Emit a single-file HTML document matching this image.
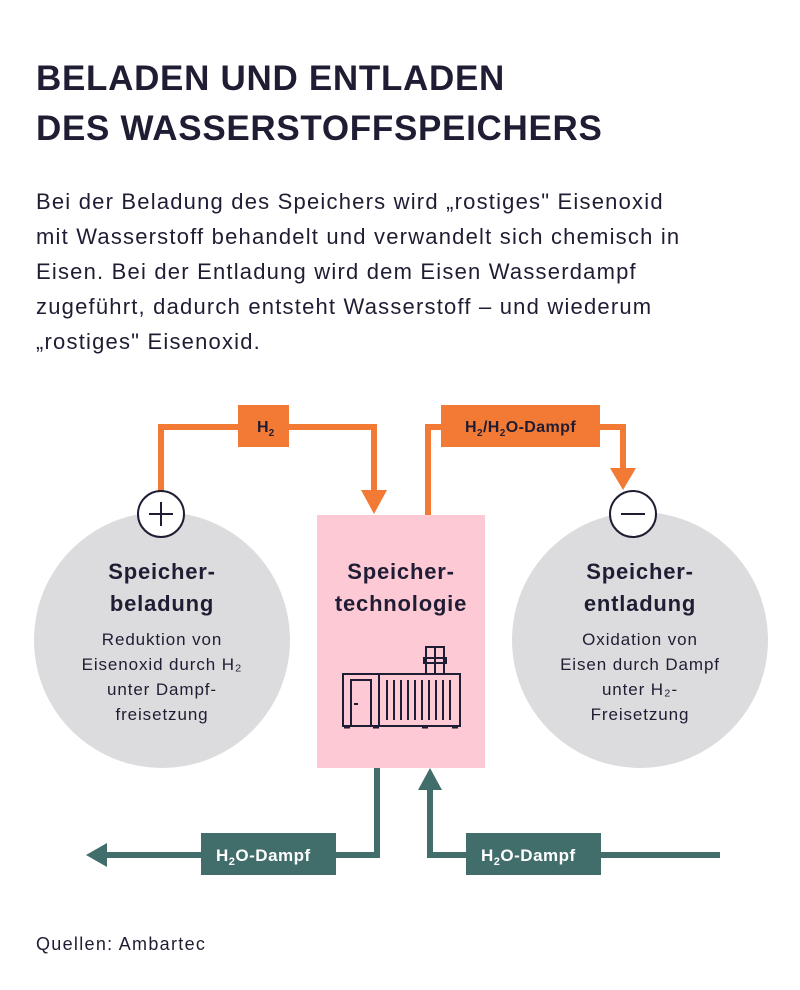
<!DOCTYPE html>
<html><head><meta charset="utf-8"><style>
body{margin:0;background:#fff;width:800px;height:985px;overflow:hidden;font-family:"Liberation Sans",sans-serif;color:#1f1d33}
</style></head><body>
<svg width="800" height="985" viewBox="0 0 800 985" xmlns="http://www.w3.org/2000/svg" font-family="Liberation Sans, sans-serif">
<g font-size="35" font-weight="bold" fill="#1f1d33" letter-spacing="0.7">
<text x="36" y="90">BELADEN UND ENTLADEN</text>
<text x="36" y="140">DES WASSERSTOFFSPEICHERS</text>
</g>
<g font-size="22" fill="#1f1d33" letter-spacing="1.2">
<text x="36" y="209">Bei der Beladung des Speichers wird „rostiges" Eisenoxid</text>
<text x="36" y="244">mit Wasserstoff behandelt und verwandelt sich chemisch in</text>
<text x="36" y="279">Eisen. Bei der Entladung wird dem Eisen Wasserdampf</text>
<text x="36" y="314">zugeführt, dadurch entsteht Wasserstoff – und wiederum</text>
<text x="36" y="349">„rostiges" Eisenoxid.</text>
</g>
<circle cx="162" cy="640" r="128" fill="#dcdcde"/>
<circle cx="640" cy="640" r="128" fill="#dcdcde"/>
<rect x="317" y="515" width="168" height="253" fill="#fcc9d4"/>
<g stroke="#f27a35" stroke-width="6" fill="none">
<polyline points="161,492 161,427 374,427 374,492"/>
<polyline points="428,515 428,427 623,427 623,470"/>
</g>
<polygon points="361,490 387,490 374,514" fill="#f27a35"/>
<polygon points="610,468 636,468 623,490" fill="#f27a35"/>
<rect x="238" y="405" width="51" height="42" fill="#f27a35"/>
<rect x="441" y="405" width="159" height="42" fill="#f27a35"/>
<text x="257" y="432" font-size="16" font-weight="bold" fill="#1f1d33">H<tspan font-size="10" dy="4">2</tspan></text>
<text x="465" y="432" font-size="16" font-weight="bold" fill="#1f1d33" letter-spacing="0.4">H<tspan font-size="10" dy="4">2</tspan><tspan dy="-4">/H</tspan><tspan font-size="10" dy="4">2</tspan><tspan dy="-4">O-Dampf</tspan></text>
<circle cx="161" cy="514" r="23" fill="#fff" stroke="#1f1d33" stroke-width="2"/>
<path d="M149 514h24M161 502v24" stroke="#1f1d33" stroke-width="2"/>
<circle cx="633" cy="514" r="23" fill="#fff" stroke="#1f1d33" stroke-width="2"/>
<path d="M621 514h24" stroke="#1f1d33" stroke-width="2"/>
<g text-anchor="middle" fill="#1f1d33">
<g font-size="22" font-weight="bold" letter-spacing="0.8">
<text x="162" y="579">Speicher-</text>
<text x="162" y="611">beladung</text>
<text x="401" y="579">Speicher-</text>
<text x="401" y="611">technologie</text>
<text x="640" y="579">Speicher-</text>
<text x="640" y="611">entladung</text>
</g>
<g font-size="17" letter-spacing="0.9">
<text x="162" y="645">Reduktion von</text>
<text x="162" y="670">Eisenoxid durch H₂</text>
<text x="162" y="695">unter Dampf-</text>
<text x="162" y="720">freisetzung</text>
<text x="640" y="645">Oxidation von</text>
<text x="640" y="670">Eisen durch Dampf</text>
<text x="640" y="695">unter H₂-</text>
<text x="640" y="720">Freisetzung</text>
</g>
</g>
<g stroke="#1f1d33" stroke-width="2" fill="none">
<rect x="343" y="674" width="117" height="52"/>
<line x1="379" y1="674" x2="379" y2="726"/>
<rect x="351" y="680" width="20" height="46"/>
<line x1="354" y1="704" x2="358" y2="704"/>
<path d="M387 680v40M394 680v40M401 680v40M408 680v40M415 680v40M422 680v40M429 680v40M436 680v40M443 680v40M450 680v40"/>
<rect x="426" y="647" width="18" height="27"/>
<line x1="435" y1="647" x2="435" y2="674"/>
<rect x="424" y="658" width="22" height="5"/>
<path d="M344 727h6M373 727h6M422 727h6M452 727h6" stroke-width="3"/>
</g>
<g stroke="#416e6b" stroke-width="6" fill="none">
<polyline points="377,768 377,855 105,855"/>
<polyline points="720,855 430,855 430,788"/>
</g>
<polygon points="86,855 107,843 107,867" fill="#416e6b"/>
<polygon points="430,768 418,790 442,790" fill="#416e6b"/>
<rect x="201" y="833" width="135" height="42" fill="#416e6b"/>
<rect x="466" y="833" width="135" height="42" fill="#416e6b"/>
<text x="216" y="861" font-size="17" font-weight="bold" fill="#fff" letter-spacing="0.5">H<tspan font-size="11" dy="4">2</tspan><tspan dy="-4">O-Dampf</tspan></text>
<text x="481" y="861" font-size="17" font-weight="bold" fill="#fff" letter-spacing="0.5">H<tspan font-size="11" dy="4">2</tspan><tspan dy="-4">O-Dampf</tspan></text>
<text x="36" y="950" font-size="18" fill="#1f1d33" letter-spacing="1.3">Quellen: Ambartec</text>
</svg>
</body></html>
